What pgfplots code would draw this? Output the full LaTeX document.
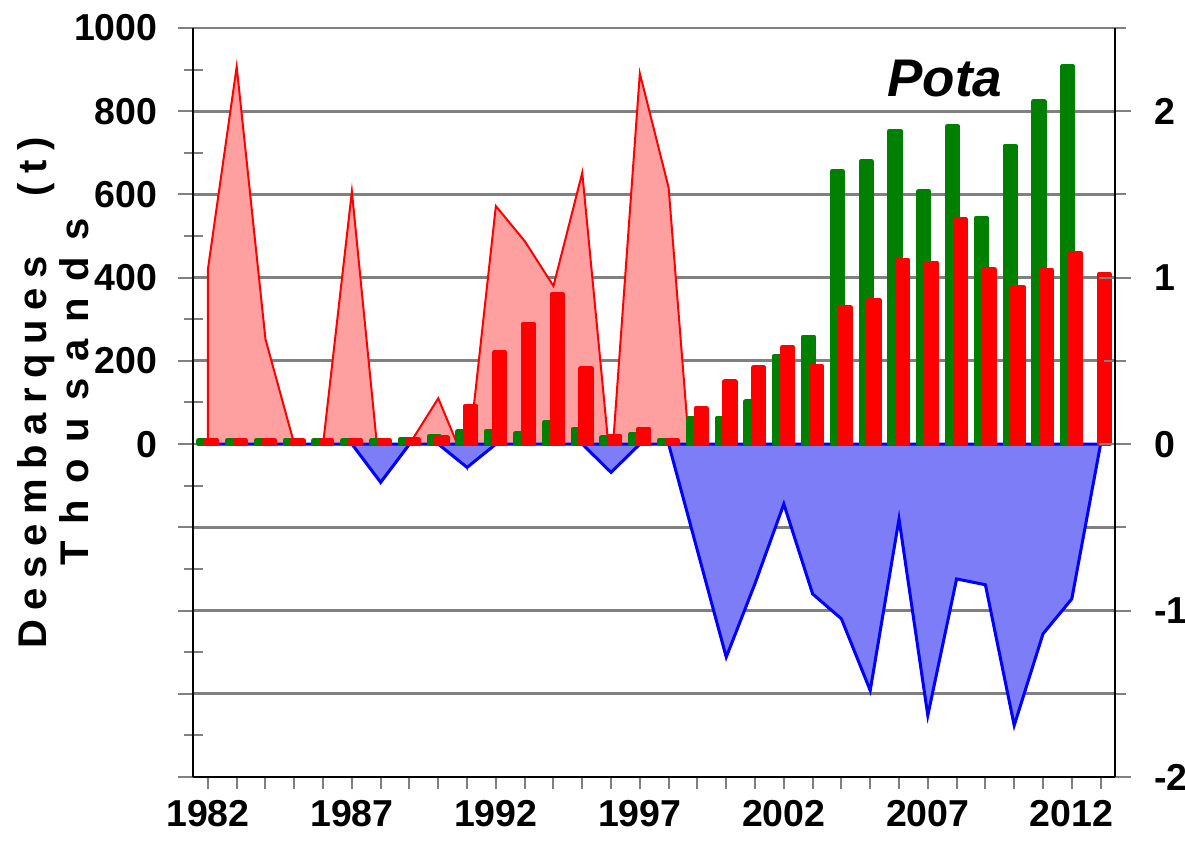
\documentclass[border=0pt]{standalone}
\usepackage{pgfplots}
\usepackage{pgfplotstable}
\pgfplotsset{compat=1.18}
\usepackage{fontspec}
\setmainfont{Liberation Sans}
\newfontfamily\spacedA[LetterSpace=24]{Liberation Sans}
\newfontfamily\spacedB[LetterSpace=42]{Liberation Sans}
\definecolor{barGreen}{RGB}{0,128,0}
\definecolor{barRed}{RGB}{255,0,0}
\definecolor{areaRed}{RGB}{255,160,160}
\definecolor{areaBlue}{RGB}{125,125,248}
\definecolor{gridGray}{RGB}{128,128,128}

% anomaly series (red area = full series, blue area = negative part)
\pgfplotstableread{
year anom neg
1982 420 0
1983 907 0
1984 252 0
1985 0 0
1986 0 0
1987 607 0
1988 -92 -92
1989 0 0
1990 110 0
1991 -56 -56
1992 572 0
1993 488 0
1994 380 0
1995 652 0
1996 -68 -68
1997 891 0
1998 616 0
1999 -256 -256
2000 -512 -512
2001 -335 -335
2002 -144 -144
2003 -360 -360
2004 -420 -420
2005 -592 -592
2006 -180 -180
2007 -652 -652
2008 -324 -324
2009 -338 -338
2010 -676 -676
2011 -456 -456
2012 -372 -372
2013 0 0
}\anomdata

\pgfplotstableread{
year green
1982 9
1983 9
1984 9
1985 9
1986 9
1987 9
1988 9
1989 11
1990 18
1991 30
1992 32
1993 26
1994 52
1995 36
1996 16
1997 24
1998 10
1999 62
2000 62
2001 102
2002 212
2003 258
2004 655
2005 679
2006 753
2007 607
2008 763
2009 543
2010 717
2011 823
2012 907
}\greendata

\pgfplotstableread{
year red
1982 9
1983 9
1984 9
1985 9
1986 9
1987 9
1988 9
1989 11
1990 16
1991 92
1992 220
1993 288
1994 360
1995 182
1996 20
1997 36
1998 9
1999 86
2000 150
2001 184
2002 232
2003 188
2004 328
2005 346
2006 442
2007 435
2008 540
2009 420
2010 378
2011 418
2012 458
2013 408
}\reddata

\pgfplotsset{
  common/.style={
    at={(0pt,0pt)}, anchor=south west,
    scale only axis, width=460.75pt, height=374.5pt,
    xmin=1981.5, xmax=2013.5,
    /pgf/number format/assume math mode=true,
    tick label style={font=\fontsize{18.75}{20}\selectfont\bfseries},
  },
}

\begin{document}
\begin{tikzpicture}
\path[use as bounding box] (-96.75pt,-33.5pt) rectangle (495.75pt,388.5pt);

\begin{axis}[
  common,
  ymin=-800, ymax=1000,
  axis x line*=bottom, axis y line*=left,
  axis line style={black, line width=1pt, -},
  xtick={1982,...,2013},
  xticklabels={1982,,,,,1987,,,,,1992,,,,,1997,,,,,2002,,,,,2007,,,,,2012,},
  x tick style={draw=none},
  xticklabel style={yshift=-8pt},
  ytick={-800,-600,...,1000},
  yticklabels={,,,,0,200,400,600,800,1000},
  minor ytick={-700,-500,...,900},
  ytick align=center,
  major tick length=16pt, minor tick length=10pt,
  y tick style={gridGray, line width=1pt},
  yticklabel style={anchor=east, xshift=-6.5pt},
  ymajorgrids,
  grid style={gridGray, line width=1.4pt},
]
\addplot[draw=barRed, line width=1pt, fill=areaRed] table[x=year, y=anom] {\anomdata} \closedcycle;
\addplot[draw=blue, line width=1.5pt, fill=areaBlue] table[x=year, y=neg] {\anomdata} \closedcycle;
\addplot[ybar, bar width=0.38, bar shift=-0.14, fill=barGreen, draw=barGreen,
  line width=2.2pt, line join=round] table[x=year, y=green] {\greendata};
\addplot[ybar, bar width=0.38, bar shift=0.13, fill=barRed, draw=barRed,
  line width=2.2pt, line join=round] table[x=year, y=red] {\reddata};
\node[anchor=base, font=\fontsize{26.5}{28}\selectfont\bfseries\itshape]
  at (rel axis cs:0.8155,0.909) {Pota};
\end{axis}

\begin{axis}[
  common,
  ymin=-2, ymax=2.5,
  axis x line=none, axis y line*=right,
  axis line style={black, line width=1pt, -},
  ytick={-2,-1,0,1,2},
  yticklabels={-2,-1,0,1,2},
  minor ytick={-1.5,-0.5,0.5,1.5,2.5},
  ytick align=center,
  major tick length=16pt, minor tick length=11pt,
  y tick style={gridGray, line width=1pt},
  yticklabel style={anchor=west, xshift=8pt},
]
\end{axis}

\begin{axis}[
  common,
  ymin=0, ymax=1,
  axis y line=none, axis x line*=bottom,
  axis line style={black, line width=1pt, -},
  xtick={1982,...,2013}, xticklabels={},
  xtick align=outside,
  major tick length=6pt,
  x tick style={gridGray, line width=1pt},
]
\end{axis}

\node[rotate=90, anchor=base, font=\fontsize{20}{22}\selectfont\bfseries\spacedA]
  at (-73.25pt,192pt) {Desembarques\hspace{30pt}(t)};
\node[rotate=90, anchor=base, font=\fontsize{20}{22}\selectfont\bfseries\spacedB]
  at (-52.25pt,192.5pt) {Thousands};
\end{tikzpicture}
\end{document}
